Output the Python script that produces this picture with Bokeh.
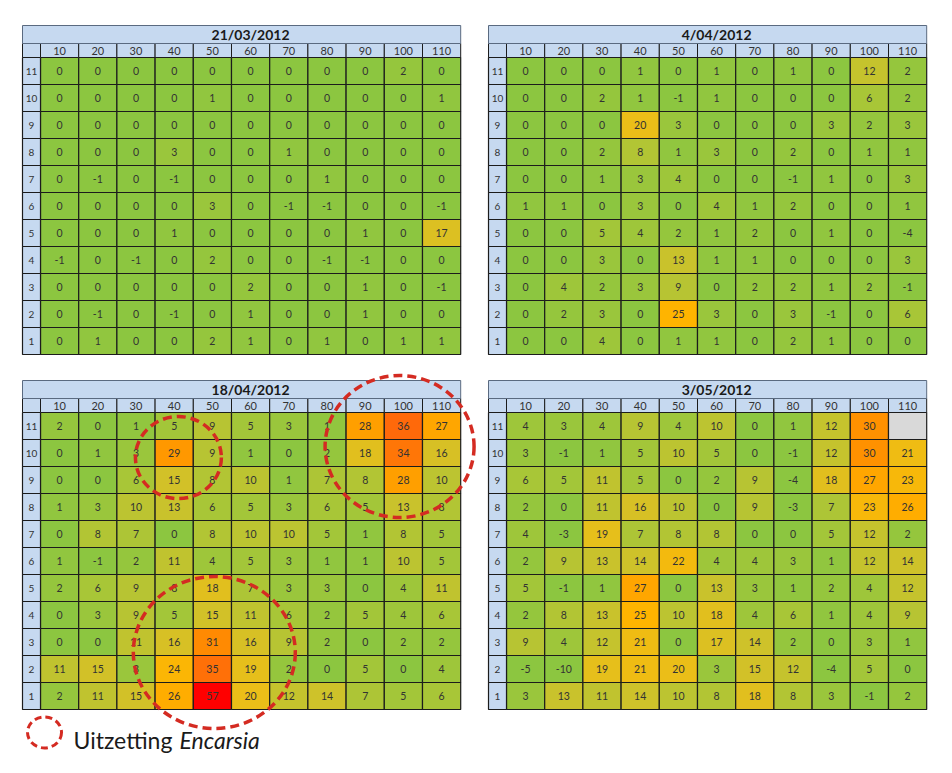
from bokeh.plotting import figure
from bokeh.layouts import column, row
from bokeh.models import ColumnDataSource, Range1d
from bokeh.core.properties import value
from bokeh.embed import file_html
from bokeh.resources import INLINE

# ---------------- data ----------------
col_labels = [10, 20, 30, 40, 50, 60, 70, 80, 90, 100, 110]
row_labels = [11, 10, 9, 8, 7, 6, 5, 4, 3, 2, 1]   # top to bottom

titles = ["21/03/2012", "4/04/2012", "18/04/2012", "3/05/2012"]

counts_21_03 = [
    [0, 0, 0, 0, 0, 0, 0, 0, 0, 2, 0],
    [0, 0, 0, 0, 1, 0, 0, 0, 0, 0, 1],
    [0, 0, 0, 0, 0, 0, 0, 0, 0, 0, 0],
    [0, 0, 0, 3, 0, 0, 1, 0, 0, 0, 0],
    [0, -1, 0, -1, 0, 0, 0, 1, 0, 0, 0],
    [0, 0, 0, 0, 3, 0, -1, -1, 0, 0, -1],
    [0, 0, 0, 1, 0, 0, 0, 0, 1, 0, 17],
    [-1, 0, -1, 0, 2, 0, 0, -1, -1, 0, 0],
    [0, 0, 0, 0, 0, 2, 0, 0, 1, 0, -1],
    [0, -1, 0, -1, 0, 1, 0, 0, 1, 0, 0],
    [0, 1, 0, 0, 2, 1, 0, 1, 0, 1, 1],
]

counts_04_04 = [
    [0, 0, 0, 1, 0, 1, 0, 1, 0, 12, 2],
    [0, 0, 2, 1, -1, 1, 0, 0, 0, 6, 2],
    [0, 0, 0, 20, 3, 0, 0, 0, 3, 2, 3],
    [0, 0, 2, 8, 1, 3, 0, 2, 0, 1, 1],
    [0, 0, 1, 3, 4, 0, 0, -1, 1, 0, 3],
    [1, 1, 0, 3, 0, 4, 1, 2, 0, 0, 1],
    [0, 0, 5, 4, 2, 1, 2, 0, 1, 0, -4],
    [0, 0, 3, 0, 13, 1, 1, 0, 0, 0, 3],
    [0, 4, 2, 3, 9, 0, 2, 2, 1, 2, -1],
    [0, 2, 3, 0, 25, 3, 0, 3, -1, 0, 6],
    [0, 0, 4, 0, 1, 1, 0, 2, 1, 0, 0],
]

counts_18_04 = [
    [2, 0, 1, 5, 9, 5, 3, 1, 28, 36, 27],
    [0, 1, 3, 29, 9, 1, 0, 2, 18, 34, 16],
    [0, 0, 6, 15, 8, 10, 1, 7, 8, 28, 10],
    [1, 3, 10, 13, 6, 5, 3, 6, 5, 13, 8],
    [0, 8, 7, 0, 8, 10, 10, 5, 1, 8, 5],
    [1, -1, 2, 11, 4, 5, 3, 1, 1, 10, 5],
    [2, 6, 9, 8, 18, 7, 3, 3, 0, 4, 11],
    [0, 3, 9, 5, 15, 11, 6, 2, 5, 4, 6],
    [0, 0, 11, 16, 31, 16, 9, 2, 0, 2, 2],
    [11, 15, 3, 24, 35, 19, 2, 0, 5, 0, 4],
    [2, 11, 15, 26, 57, 20, 12, 14, 7, 5, 6],
]

counts_03_05 = [
    [4, 3, 4, 9, 4, 10, 0, 1, 12, 30, None],
    [3, -1, 1, 5, 10, 5, 0, -1, 12, 30, 21],
    [6, 5, 11, 5, 0, 2, 9, -4, 18, 27, 23],
    [2, 0, 11, 16, 10, 0, 9, -3, 7, 23, 26],
    [4, -3, 19, 7, 8, 8, 0, 0, 5, 12, 2],
    [2, 9, 13, 14, 22, 4, 4, 3, 1, 12, 14],
    [5, -1, 1, 27, 0, 13, 3, 1, 2, 4, 12],
    [2, 8, 13, 25, 10, 18, 4, 6, 1, 4, 9],
    [9, 4, 12, 21, 0, 17, 14, 2, 0, 3, 1],
    [-5, -10, 19, 21, 20, 3, 15, 12, -4, 5, 0],
    [3, 13, 11, 14, 10, 8, 18, 8, 3, -1, 2],
]

legend_label = "Uitzetting "
legend_label_italic = "Encarsia"

# ---------------- style / geometry ----------------
COL_W = 38.2      # px per data column
ROW_H = 27.0      # px per data row
HDR_W = 18.0      # row header width px
HEAD_H = 14.0     # column header height px
TITLE_H = 18.0    # title band height px
BLUE = "#C6D9F0"
GRID = "#1c1c1c"
TEXT = "#333333"
FONT = "Lato"
RED = "#D42B22"

color_stops = [
    (0, (140, 198, 64)),
    (5, (163, 198, 57)),
    (10, (188, 196, 49)),
    (15, (210, 193, 40)),
    (20, (235, 190, 24)),
    (25, (255, 180, 0)),
    (30, (255, 145, 0)),
    (36, (255, 105, 10)),
    (57, (255, 0, 0)),
]


def cell_color(v):
    if v is None:
        return "#D9D9D9"
    if v <= color_stops[0][0]:
        c = color_stops[0][1]
    elif v >= color_stops[-1][0]:
        c = color_stops[-1][1]
    else:
        for (a, ca), (b, cb) in zip(color_stops[:-1], color_stops[1:]):
            if a <= v <= b:
                t = (v - a) / (b - a)
                c = tuple(ca[i] + (cb[i] - ca[i]) * t for i in range(3))
                break
    return "#%02x%02x%02x" % tuple(int(round(x)) for x in c)


def make_panel(title, counts, W, H, left_px, top_px):
    bottom_px = top_px + TITLE_H + HEAD_H + 11 * ROW_H
    x0 = 0.5 - (left_px + HDR_W) / COL_W
    y0 = 0.5 - (H - bottom_px) / ROW_H
    p = figure(width=W, height=H, output_backend="svg", toolbar_location=None,
               x_axis_location=None, y_axis_location=None,
               x_range=Range1d(x0, x0 + W / COL_W), y_range=Range1d(y0, y0 + H / ROW_H),
               min_border=0, outline_line_color=None, background_fill_color="white",
               border_fill_color="white")
    p.grid.visible = False

    xs, ys, fills, labels = [], [], [], []
    for ri, r in enumerate(row_labels):
        for ci, c in enumerate(col_labels):
            v = counts[ri][ci]
            xs.append(ci + 1)
            ys.append(r)
            fills.append(cell_color(v))
            labels.append("" if v is None else str(v))
    src = ColumnDataSource(dict(x=xs, y=ys, fill=fills, label=labels))
    p.rect("x", "y", width=1, height=1, source=src, fill_color="fill",
           line_color=GRID, line_width=1.2)
    p.text("x", "y", text="label", source=src, text_align="center",
           text_baseline="middle", text_font=value(FONT), text_font_size="10.5px",
           text_color=TEXT)

    hw = HDR_W / COL_W
    hx = 0.5 - hw / 2
    # row header
    rsrc = ColumnDataSource(dict(x=[hx] * 11, y=row_labels, label=[str(r) for r in row_labels]))
    p.rect("x", "y", width=hw, height=1, source=rsrc, fill_color=BLUE,
           line_color=GRID, line_width=1.2)
    p.text("x", "y", text="label", source=rsrc, text_align="center",
           text_baseline="middle", text_font=value(FONT), text_font_size="10px",
           text_color=TEXT)
    # column header
    hh = HEAD_H / ROW_H
    hy = 11.5 + hh / 2
    csrc = ColumnDataSource(dict(x=list(range(1, 12)), y=[hy] * 11,
                                 label=[str(c) for c in col_labels]))
    p.rect("x", "y", width=1, height=hh, source=csrc, fill_color=BLUE,
           line_color=GRID, line_width=1)
    p.rect([hx], [hy], width=hw, height=hh, fill_color=BLUE, line_color=GRID, line_width=1)
    p.text("x", "y", text="label", source=csrc, text_align="center",
           text_baseline="middle", text_font=value(FONT), text_font_size="11px",
           text_color=TEXT)
    # title band
    th = TITLE_H / ROW_H
    tleft = 0.5 - hw
    p.rect([(tleft + 11.5) / 2], [11.5 + hh + th / 2], width=11.5 - tleft, height=th,
           fill_color=BLUE, line_color="#5a6a80", line_width=1)
    p.text([6], [11.5 + hh + th / 2], text=[title], text_align="center",
           text_baseline="middle", text_font=value(FONT), text_font_size="14px",
           text_font_style="bold", text_color="#1a1a1a")
    return p


W_L, W_R = 476, 476
H_T, H_B = 367, 406

p1 = make_panel(titles[0], counts_21_03, W_L, H_T, 22, 25)
p2 = make_panel(titles[1], counts_04_04, W_R, H_T, 12, 25)
p3 = make_panel(titles[2], counts_18_04, W_L, H_B, 22, 13)
p4 = make_panel(titles[3], counts_03_05, W_R, H_B, 12, 13)

# release areas (Encarsia) on 18/04/2012, in column / row units
release_x = [4.11, 9.9, 5.05]
release_y = [9.83, 10.24, 2.61]
release_w = [2.25, 3.9, 4.24]
release_h = [3.04, 5.26, 5.63]
p3.ellipse(release_x, release_y, width=release_w, height=release_h, fill_color=None,
           line_color=RED, line_width=3.5, line_dash="9 5")

# legend
p3.ellipse([0.605], [-0.35], width=34, height=31, width_units="screen",
           height_units="screen", fill_color=None, line_color=RED,
           line_width=3, line_dash="7 4")
p3.text([1.364], [-0.62], text=[legend_label], text_align="left",
        text_baseline="middle", text_font=value(FONT), text_font_size="23px",
        text_color="#1a1a1a")
p3.text([1.364], [-0.62], text=[legend_label_italic], x_offset=106, text_align="left",
        text_baseline="middle", text_font=value(FONT), text_font_size="23px",
        text_font_style="italic", text_color="#1a1a1a")

layout = column(row(p1, p2), row(p3, p4))

open("out.html", "w").write(file_html(layout, INLINE))
